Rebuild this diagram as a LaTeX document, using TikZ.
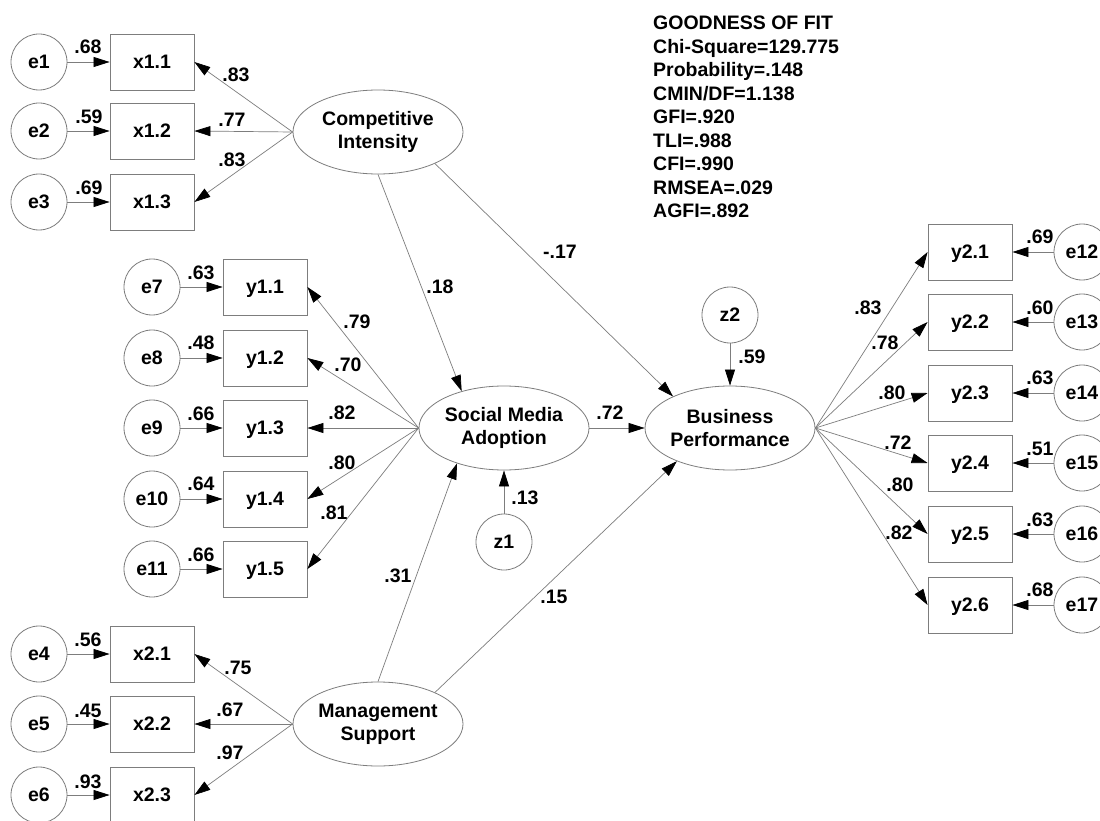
\documentclass[tikz,border=0pt]{standalone}
\usepackage{fontspec}
\setmainfont{Liberation Sans}
\usetikzlibrary{shapes.geometric,arrows.meta}
\definecolor{linegray}{RGB}{125,125,125}
\begin{document}
\begin{tikzpicture}[x=1pt,y=-1pt,
  every node/.style={font=\fontsize{19.5}{23}\selectfont\bfseries, text=black},
  obs/.style={draw=linegray, line width=0.8pt, minimum width=84pt, minimum height=56pt, inner sep=0pt, text depth=0pt},
  err/.style={draw=linegray, line width=0.8pt, circle, minimum size=56pt, inner sep=0pt, text depth=0pt},
  lat/.style={draw=linegray, line width=0.8pt, ellipse, minimum width=170pt, minimum height=84pt, inner sep=0pt, align=center},
  arr/.style={draw=linegray, line width=0.7pt, -{Triangle[length=16pt,width=10pt,color=black]}},
  lbl/.style={inner sep=0pt},
  gof/.style={anchor=base west, inner sep=0pt},
]
\useasboundingbox[fill=white] (0,0) rectangle (1100,821);

% latent variables
\node[lat] (ci) at (378,132) {Competitive\\Intensity};
\node[lat] (sma) at (504,428) {Social Media\\Adoption};
\node[lat] (bp) at (730,428) {Business\\Performance};
\node[lat] (ms) at (378,724) {Management\\Support};
\node[err] (z1) at (504,542) {z1};
\node[err] (z2) at (730,315) {z2};

% CI indicators
\node[err] (e1) at (39,62) {e1};
\node[err] (e2) at (39,131) {e2};
\node[err] (e3) at (39,202) {e3};
\node[obs] (x11) at (152,62) {x1.1};
\node[obs] (x12) at (152,131) {x1.2};
\node[obs] (x13) at (152,202) {x1.3};

% SMA indicators
\node[err] (e7) at (152,287) {e7};
\node[err] (e8) at (152,358) {e8};
\node[err] (e9) at (152,428) {e9};
\node[err] (e10) at (152,499) {e10};
\node[err] (e11) at (152,569) {e11};
\node[obs] (y11) at (265,287) {y1.1};
\node[obs] (y12) at (265,358) {y1.2};
\node[obs] (y13) at (265,428) {y1.3};
\node[obs] (y14) at (265,499) {y1.4};
\node[obs] (y15) at (265,569) {y1.5};

% MS indicators
\node[err] (e4) at (39,654) {e4};
\node[err] (e5) at (39,724) {e5};
\node[err] (e6) at (39,795) {e6};
\node[obs] (x21) at (152,654) {x2.1};
\node[obs] (x22) at (152,724) {x2.2};
\node[obs] (x23) at (152,795) {x2.3};

% BP indicators
\node[obs] (y21) at (970,252) {y2.1};
\node[obs] (y22) at (970,322) {y2.2};
\node[obs] (y23) at (970,393) {y2.3};
\node[obs] (y24) at (970,463) {y2.4};
\node[obs] (y25) at (970,534) {y2.5};
\node[obs] (y26) at (970,605) {y2.6};
\node[err] (e12) at (1082,252) {e12};
\node[err] (e13) at (1082,322) {e13};
\node[err] (e14) at (1082,393) {e14};
\node[err] (e15) at (1082,463) {e15};
\node[err] (e16) at (1082,534) {e16};
\node[err] (e17) at (1082,605) {e17};

% error arrows
\foreach \e/\o in {e1/x11,e2/x12,e3/x13,e7/y11,e8/y12,e9/y13,e10/y14,e11/y15,e4/x21,e5/x22,e6/x23,e12/y21,e13/y22,e14/y23,e15/y24,e16/y25,e17/y26}
  \draw[arr] (\e) -- (\o);

% loadings
\foreach \o in {x11,x12,x13} \draw[arr] (ci.west) -- (\o.east);
\foreach \o in {y11,y12,y13,y14,y15} \draw[arr] (sma.west) -- (\o.east);
\foreach \o in {x21,x22,x23} \draw[arr] (ms.west) -- (\o.east);
\foreach \o in {y21,y22,y23,y24,y25,y26} \draw[arr] (bp.east) -- (\o.west);

% structural paths
\draw[arr] (ci.south) -- (sma.139);
\draw[arr] (ci.-29) -- (bp.151);
\draw[arr] (ms.north) -- (sma.217);
\draw[arr] (ms.29) -- (bp.212);
\draw[arr] (sma.east) -- (bp.west);
\draw[arr] (z1) -- (sma.south);
\draw[arr] (z2) -- (bp.north);

% labels
\node[lbl] (l1) at (88,47) {.68};
\node[lbl] (l2) at (89,117) {.59};
\node[lbl] (l3) at (89,188) {.69};
\node[lbl] (l4) at (236,75) {.83};
\node[lbl] (l5) at (232,120) {.77};
\node[lbl] (l6) at (232,160) {.83};
\node[lbl] (l7) at (201,273) {.63};
\node[lbl] (l8) at (201,343) {.48};
\node[lbl] (l9) at (201,414) {.66};
\node[lbl] (l10) at (201,484) {.64};
\node[lbl] (l11) at (201,555) {.66};
\node[lbl] (l12) at (357,322) {.79};
\node[lbl] (l13) at (348,365) {.70};
\node[lbl] (l14) at (342,413) {.82};
\node[lbl] (l15) at (342,463) {.80};
\node[lbl] (l16) at (334,513) {.81};
\node[lbl] (l17) at (88,640) {.56};
\node[lbl] (l18) at (88,711) {.45};
\node[lbl] (l19) at (88,782) {.93};
\node[lbl] (l20) at (238,668) {.75};
\node[lbl] (l21) at (230,710) {.67};
\node[lbl] (l22) at (230,753) {.97};
\node[lbl] (l23) at (440,287) {.18};
\node[lbl] (l24) at (560,252) {-.17};
\node[lbl] (l25) at (752,357) {.59};
\node[lbl] (l26) at (610,413) {.72};
\node[lbl] (l27) at (525,498) {.13};
\node[lbl] (l28) at (398,576) {.31};
\node[lbl] (l29) at (554,597) {.15};
\node[lbl] (l30) at (868,308) {.83};
\node[lbl] (l31) at (885,343) {.78};
\node[lbl] (l32) at (892,393) {.80};
\node[lbl] (l33) at (898,443) {.72};
\node[lbl] (l34) at (900,485) {.80};
\node[lbl] (l35) at (899,533) {.82};
\node[lbl] (l36) at (1040,237) {.69};
\node[lbl] (l37) at (1040,308) {.60};
\node[lbl] (l38) at (1040,378) {.63};
\node[lbl] (l39) at (1040,449) {.51};
\node[lbl] (l40) at (1040,520) {.63};
\node[lbl] (l41) at (1040,590) {.68};

% goodness of fit
\node[gof] (g1) at (653,30) {GOODNESS OF FIT};
\node[gof] (g2) at (653,53.5) {Chi-Square=129.775};
\node[gof] (g3) at (653,77) {Probability=.148};
\node[gof] (g4) at (653,100.5) {CMIN/DF=1.138};
\node[gof] (g5) at (653,124) {GFI=.920};
\node[gof] (g6) at (653,147.5) {TLI=.988};
\node[gof] (g7) at (653,171) {CFI=.990};
\node[gof] (g8) at (653,194.5) {RMSEA=.029};
\node[gof] (g9) at (653,218) {AGFI=.892};
\end{tikzpicture}
\end{document}
